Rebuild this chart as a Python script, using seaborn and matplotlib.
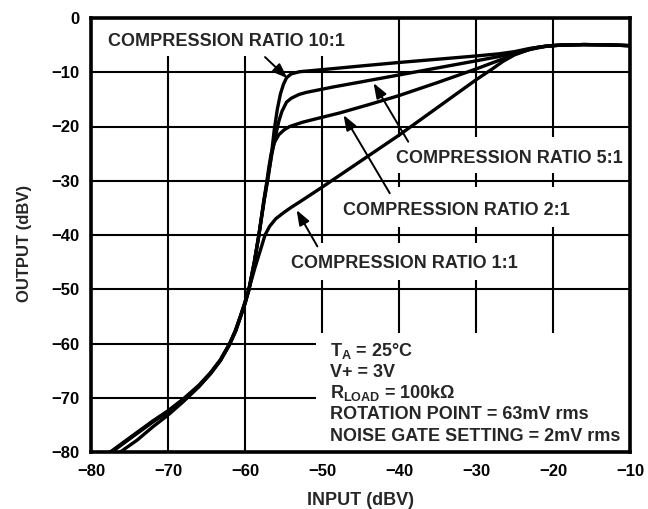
import matplotlib
matplotlib.use("Agg")
import matplotlib.pyplot as plt
import numpy as np
import pandas as pd
import seaborn as sns
from matplotlib.patches import Rectangle

# ---- data: output level vs input level for each compression ratio (dBV) ----
in_10 = [-77.5, -75.0, -72.0, -70.0, -68.0, -66.0, -64.5, -63.2, -62.0, -61.2, -60.6,
         -60.0, -59.5, -58.8, -58.2, -57.5, -57.0, -56.6, -56.2, -55.8, -55.4, -55.0,
         -54.6, -54.0, -52.9, -49.8, -45.0, -40.0, -35.0, -30.0, -27.0, -25.0, -23.0,
         -21.0, -19.0, -16.0, -13.0, -10.0]
out_10 = [-80.0, -77.4, -74.3, -72.4, -70.2, -67.7, -65.4, -63.0, -60.0, -57.5, -55.0,
          -52.5, -50.0, -45.0, -40.0, -33.5, -29.5, -25.6, -20.6, -16.8, -14.0, -12.2,
          -11.0, -10.3, -9.9, -9.5, -8.85, -8.2, -7.6, -7.0, -6.6, -6.2, -5.6,
          -5.2, -5.0, -4.9, -4.95, -5.1]

in_5 = [-77.4, -75.0, -72.0, -70.0, -68.0, -66.0, -64.5, -63.2, -62.0, -61.2, -60.6,
        -60.0, -59.5, -58.8, -58.2, -57.5, -57.0, -56.5, -56.0, -55.6, -55.2, -54.6,
        -54.0, -53.0, -52.0, -48.5, -45.0, -40.0, -35.0, -30.0, -27.0, -25.0, -23.0,
        -21.0, -19.0, -16.0, -13.0, -10.0]
out_5 = [-80.0, -77.5, -74.4, -72.5, -70.3, -67.8, -65.5, -63.1, -60.1, -57.6, -55.1,
         -52.6, -50.1, -45.1, -40.0, -33.5, -29.0, -25.0, -21.5, -19.0, -17.2, -15.5,
         -14.8, -14.1, -13.7, -12.7, -11.8, -10.5, -9.2, -7.9, -7.1, -6.4, -5.7,
         -5.2, -5.0, -4.9, -4.95, -5.1]

in_2 = [-77.3, -75.0, -72.0, -70.0, -68.0, -66.0, -64.5, -63.2, -62.0, -61.2, -60.6,
        -60.0, -59.5, -58.8, -58.2, -57.6, -57.2, -56.9, -56.6, -56.2, -55.6, -54.9,
        -54.2, -52.5, -51.1, -47.7, -44.0, -40.0, -35.0, -30.0, -27.0, -25.0, -23.0,
        -21.0, -19.0, -16.0, -13.0, -10.0]
out_2 = [-80.0, -77.6, -74.5, -72.6, -70.4, -67.9, -65.6, -63.2, -60.2, -57.7, -55.2,
         -52.7, -50.2, -45.2, -40.1, -34.0, -30.5, -27.5, -25.0, -23.0, -21.5, -20.6,
         -20.0, -19.2, -18.7, -17.5, -16.0, -14.3, -11.9, -9.4, -7.8, -6.7, -5.8,
         -5.25, -5.0, -4.9, -4.95, -5.1]

in_1 = [-76.2, -74.0, -72.0, -70.0, -68.0, -66.0, -64.5, -63.2, -62.1, -61.3, -60.6,
        -60.0, -59.4, -58.7, -58.0, -57.4, -56.8, -56.0, -55.0, -54.0, -53.0, -50.0,
        -45.0, -40.0, -35.0, -30.0, -28.0, -26.5, -25.0, -23.5, -22.0, -20.0, -16.0,
        -13.0, -10.0]
out_1 = [-80.0, -77.8, -75.4, -73.2, -70.7, -68.0, -65.6, -63.1, -60.4, -57.8, -55.0,
         -52.3, -49.5, -46.0, -42.8, -40.0, -38.4, -37.0, -35.9, -34.9, -34.0, -31.2,
         -26.4, -21.6, -16.5, -11.4, -9.5, -8.0, -6.8, -6.0, -5.4, -5.05, -4.9,
         -4.95, -5.1]

ratios = ["10:1", "5:1", "2:1", "1:1"]
x_ticks = [-80, -70, -60, -50, -40, -30, -20, -10]
y_ticks = [-80, -70, -60, -50, -40, -30, -20, -10, 0]

frames = []
for name, xs, ys in zip(ratios, [in_10, in_5, in_2, in_1], [out_10, out_5, out_2, out_1]):
    frames.append(pd.DataFrame({"input": xs, "output": ys, "ratio": name,
                                "order": range(len(xs))}))
df = pd.concat(frames, ignore_index=True)

# ---- style ----
sns.set_theme(style="white")
plt.rcParams.update({
    "font.family": ["Liberation Sans", "DejaVu Sans"],
    "font.weight": "bold",
    "axes.labelweight": "bold",
    "mathtext.fontset": "custom",
    "mathtext.rm": "Liberation Sans:bold",
    "mathtext.it": "Liberation Sans:bold",
    "mathtext.bf": "Liberation Sans:bold",
    "mathtext.default": "rm",
    "axes.unicode_minus": True,
})

fig = plt.figure(figsize=(6.48, 5.09), dpi=100)
ax = fig.add_axes([91 / 648, 1 - 452 / 509, (630 - 91) / 648, (452 - 18) / 509])

sns.lineplot(data=df, x="input", y="output", units="ratio", estimator=None,
             sort=False, color="black", lw=2.4, ax=ax, zorder=2, legend=False)

ax.set_xlim(-80, -10)
ax.set_ylim(-80, 0)
ax.set_xticks(x_ticks)
ax.set_yticks(y_ticks)
ax.grid(True, color="black", lw=1.5)
ax.set_axisbelow(True)
ax.tick_params(length=0, labelsize=12, colors="black")
ax.tick_params(axis="x", pad=9)
ax.tick_params(axis="y", pad=8)
for lab in ax.get_xticklabels() + ax.get_yticklabels():
    lab.set_fontweight("bold")
for sp in ax.spines.values():
    sp.set_visible(True)
    sp.set_color("black")
    sp.set_linewidth(2.6)
    sp.set_zorder(6)

ax.set_xlabel("INPUT (dBV)", fontsize=13, fontweight="bold", labelpad=9)
ax.set_ylabel("OUTPUT (dBV)", fontsize=12, fontweight="bold")
ax.yaxis.set_label_coords(-0.11, 0.48)

# white panels behind the labels, breaking the grid
panels = [(-80, -7.0, 33.5, 7.0), (-40.6, -28.6, 30.6, 6.7),
          (-47.8, -38.5, 30.5, 7.4), (-54.7, -48.3, 30.7, 6.8),
          (-50.8, -80.0, 40.8, 21.9)]
for x0, y0, w, h in panels:
    ax.add_patch(Rectangle((x0, y0), w, h, facecolor="white", edgecolor="none",
                           zorder=1))

# curve labels with arrows
labels = [
    ("COMPRESSION RATIO 10:1", (-77.8, -5.1), (-57.4, -7.2), (-54.5, -11.1)),
    ("COMPRESSION RATIO 5:1", (-40.4, -26.8), (-38.8, -22.8), (-43.3, -12.0)),
    ("COMPRESSION RATIO 2:1", (-47.3, -36.3), (-41.2, -32.3), (-47.2, -17.9)),
    ("COMPRESSION RATIO 1:1", (-54.0, -46.1), (-50.6, -42.1), (-53.3, -35.4)),
]
for text, pos, start, tip in labels:
    ax.text(pos[0], pos[1], text, fontsize=13, fontweight="bold", ha="left",
            va="baseline", zorder=4)
    ax.annotate("", xy=tip, xytext=start, zorder=4,
                arrowprops=dict(arrowstyle="-|>,head_length=0.65,head_width=0.24",
                                mutation_scale=14, lw=1.4, color="black",
                                shrinkA=0, shrinkB=0))

# test conditions
conditions = ["T$_{A}$ = 25°C", "V+ = 3V", "R$_{LOAD}$ = 100kΩ",
              "ROTATION POINT = 63mV rms", "NOISE GATE SETTING = 2mV rms"]
cond_y = [-62.3, -66.1, -70.1, -73.9, -78.0]
for s, yy in zip(conditions, cond_y):
    ax.text(-49.0, yy, s, fontsize=13, fontweight="bold", ha="left",
            va="baseline", zorder=4)

fig.savefig("out.png", dpi=100)
